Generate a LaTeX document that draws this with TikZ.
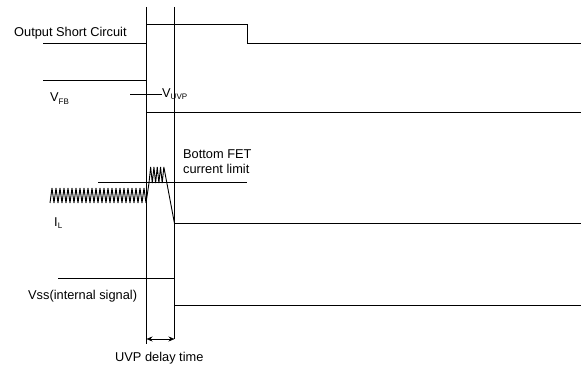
\documentclass[tikz,border=0pt]{standalone}
\usepackage{fontspec}
\setmainfont{Liberation Sans}
\usetikzlibrary{arrows.meta}

\newcommand{\sublow}[1]{\raisebox{-2.2pt}{\fontsize{8}{9}\selectfont #1}}

\begin{document}
\begin{tikzpicture}[x=1pt,y=-1pt,
  sig/.style={line width=0.9pt},
  guide/.style={line width=0.6pt},
  lbl/.style={font=\fontsize{12.8}{15}\selectfont,inner sep=0pt,anchor=base west}]
\useasboundingbox (0,0) rectangle (581,366);
% time markers
\coordinate (fault) at (146.5,7);
\coordinate (trip) at (174.5,7);
\coordinate (faultend) at (146.5,344);
\coordinate (tripend) at (174.5,339);
\draw[guide] (fault) -- (faultend);
\draw[guide] (trip) -- (tripend);
\coordinate (delayA) at (146.5,339);
\coordinate (delayB) at (174.5,339);
\draw[guide,{Stealth[length=6pt,width=5pt]}-{Stealth[length=6pt,width=5pt]}] (delayA) -- (delayB);
\node[lbl] (delaytxt) at (115,361) {UVP delay time};
% output short circuit
\draw[sig] (43,43.5) -- (146.5,43.5) -- (146.5,24.5) -- (247.5,24.5) -- (247.5,43.5) -- (581,43.5);
\node[lbl] (osc) at (14,37) {Output Short Circuit};
% feedback voltage
\draw[sig] (43,80.5) -- (146.5,80.5) -- (146.5,112.5) -- (581,112.5);
\node[lbl] (vfb) at (50,102) {V\sublow{FB}};
\coordinate (uvpA) at (130,94.5);
\coordinate (uvpB) at (162,94.5);
\draw[guide] (uvpA) -- (uvpB);
\node[lbl] (vuvp) at (162,97.5) {V\sublow{UVP}};
% inductor current
\coordinate (limA) at (98,182.5);
\coordinate (limB) at (247,182.5);
\draw[guide] (limA) -- (limB);
\node[lbl] (limtxt) at (183,158.5) {Bottom FET};
\node[lbl] at (183,174) {current limit};
\draw[sig,line join=bevel] (50,203) \foreach \i in {1,...,24} { -- ++(2,-15) -- ++(2,15)}
  -- (149,183) \foreach \i in {1,...,4} { -- ++(1.65,-16) -- ++(1.65,16)}
  -- ++(1.65,-16) -- (174.5,223.5) -- (581,223.5);
\node[lbl] (il) at (54,226.5) {I\sublow{L}};
% soft start
\draw[sig] (58,278.5) -- (174.5,278.5) -- (174.5,305.5) -- (581,305.5);
\node[lbl] (vss) at (28,299.5) {Vss(internal signal)};
\end{tikzpicture}
\end{document}
